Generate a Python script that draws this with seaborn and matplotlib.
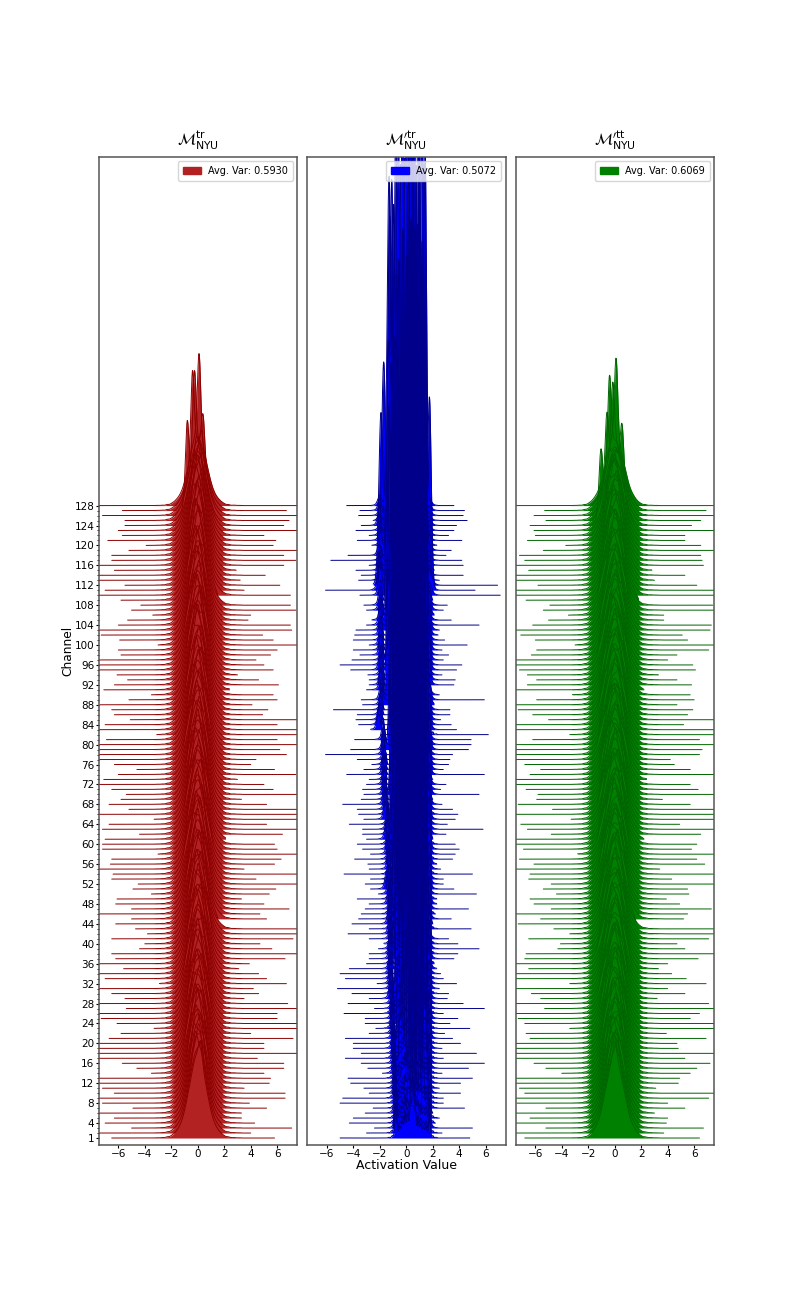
import matplotlib
matplotlib.use('Agg')
import matplotlib.pyplot as plt
import matplotlib.transforms as mtransforms
from matplotlib.patches import Patch
import seaborn as sns

# all per channel lists run from channel 128 down to channel 1
# min and max activation of each channel, 8 means it runs off the axes
red_left = [-8,-5.7,-7.2,-5.5,-5.5,-6.0,-5.7,-6.8,-3.9,-5.2,-6.5,-6.5,-7.4,-6.3,-8,-8,
            -5.5,-7.0,-8,-5.8,-4.3,-5.0,-3.4,-5.3,-6.0,-7.4,-7.3,-5.9,-3.0,-6.0,-5.8,-8,
            -8,-8,-6.1,-5.3,-6.3,-7.1,-3.5,-5.2,-7.4,-6.5,-6.3,-5.1,-7.0,-8,-3.1,-6.9,
            -8,-8,-8,-8,-6.3,-4.6,-6.0,-7.1,-7.4,-6.5,-5.4,-5.8,-6.7,-5.2,-8,-3.3,
            -6.7,-7.2,-4.4,-7.0,-7.2,-7.2,-3.0,-6.5,-6.6,-8,-6.4,-6.5,-4.5,-4.9,-3.5,-6.1,
            -6.2,-5.0,-8,-5.0,-6.2,-4.7,-3.8,-6.5,-4.0,-4.4,-6.5,-6.2,-7.4,-5.6,-8,-7.0,
            -2.9,-8,-6.5,-5.5,-8,-5.4,-8,-7.3,-6.1,-3.3,-5.8,-6.7,-8,-8,-8,-8,
            -5.7,-4.6,-3.5,-8,-8,-7.2,-6.3,-8,-7.2,-4.9,-8,-6.3,-7.0,-5.0,-8,-6.5]
red_right = [8,6.7,8,6.9,6.5,8,5.0,5.9,5.7,8,6.5,7.4,6.5,2.9,5.1,3.2,
             6.2,3.5,7.0,1.5,7.0,7.4,4.0,3.8,7.0,7.1,4.9,5.7,8,6.0,5.5,4.4,
             5.0,5.7,3.0,4.6,6.1,2.4,5.7,6.0,4.1,5.3,4.9,8,6.0,8,8,6.0,
             8,6.2,6.7,4.4,4.0,5.8,7.4,3.0,5.0,5.7,8,3.3,5.2,8,8,8,
             5.2,8,6.4,2.1,5.8,6.0,8,6.3,5.8,3.5,8,4.4,8,5.9,5.4,3.3,
             5.0,6.9,4.7,5.2,1.5,8,8,7.2,4.7,5.6,8,6.6,3.9,3.1,4.6,5.2,
             6.7,4.2,4.6,3.5,6.8,8,6.0,6.0,8,8,4.0,7.2,5.0,5.0,8,4.5,
             6.5,6.5,5.0,5.5,5.4,3.5,6.6,6.6,3.9,5.2,3.3,3.3,4.3,7.1,4.0,5.8]
blue_left = [-4.5,-3.5,-3.6,-2.5,-3.4,-3.8,-2.8,-3.7,-2.6,-2.0,-4.4,-5.7,-2.8,-3.8,-3.4,-3.6,
             -2.5,-6.1,-3.5,-2.0,-3.2,-3.0,-2.1,-2.6,-3.0,-3.8,-3.9,-4.0,-2.8,-4.0,-3.5,-4.1,
             -5.0,-4.2,-2.9,-2.8,-2.8,-3.0,-2.0,-3.4,-3.3,-5.5,-3.7,-3.8,-3.6,-2.7,-1.9,-3.9,
             -1.9,-4.2,-6.1,-3.7,-2.6,-3.2,-4.5,-2.8,-3.0,-3.3,-3.2,-3.4,-4.8,-3.7,-3.6,-3.2,
             -4.3,-3.3,-3.3,-3.0,-3.7,-3.3,-2.7,-3.9,-2.9,-2.8,-4.7,-2.7,-3.1,-2.7,-2.1,-3.7,
             -2.8,-3.1,-3.4,-3.6,-4.1,-2.8,-4.4,-2.8,-1.7,-2.1,-2.8,-2.8,-3.0,-4.3,-5.0,-4.6,
             -2.2,-5.2,-4.1,-2.8,-4.4,-2.4,-4.7,-3.1,-3.1,-2.3,-2.8,-4.6,-4.0,-4.0,-3.4,-4.6,
             -3.4,-2.9,-1.8,-4.4,-4.2,-3.2,-2.8,-4.8,-5.0,-2.5,-3.1,-4.0,-4.3,-2.4,-3.0,-5.0]
blue_right = [3.6,4.4,4.3,4.6,3.8,3.6,3.2,4.2,2.3,3.4,3.0,4.2,4.3,2.1,4.3,2.5,
              6.9,5.2,7.1,2.0,3.1,2.8,2.1,3.4,5.5,2.5,2.4,2.9,4.6,2.7,3.2,2.8,
              4.2,3.8,2.7,3.7,3.6,1.8,2.5,5.9,2.1,3.3,3.3,2.6,3.4,3.8,6.2,4.9,
              4.9,4.7,3.5,3.3,3.2,2.8,5.9,2.0,3.0,2.6,5.5,2.0,2.7,3.5,3.9,3.7,
              3.1,5.8,3.0,2.0,3.7,4.0,3.7,3.5,2.3,2.6,5.0,2.8,2.8,3.6,5.3,2.3,
              2.3,4.7,2.2,3.4,2.0,4.9,1.9,3.2,3.9,5.5,3.9,3.6,2.1,2.3,2.6,2.8,
              3.8,2.5,3.2,3.1,4.3,5.9,2.8,3.9,3.3,4.8,2.9,3.5,4.1,2.7,5.3,2.8,
              5.9,4.7,2.7,5.0,4.1,2.5,4.1,2.8,2.8,4.4,2.0,2.5,2.2,5.0,2.7,4.8]
green_left = [-8,-5.3,-6.1,-5.2,-6.4,-6.1,-6.0,-6.6,-3.7,-5.4,-7.2,-6.8,-8,-6.5,-8,-8,
              -5.8,-8,-8,-6.7,-4.9,-5.4,-3.5,-5.0,-6.2,-8,-7.1,-6.0,-3.0,-5.9,-6.3,-8,
              -8,-7.2,-6.6,-5.9,-6.6,-8,-3.2,-5.9,-8,-7.3,-6.2,-5.0,-8,-8,-3.4,-6.2,
              -8,-8,-8,-8,-6.8,-5.6,-6.4,-8,-8,-6.7,-5.8,-5.9,-7.3,-4.7,-8,-3.3,
              -7.1,-6.6,-4.8,-8,-8,-6.9,-2.8,-7.2,-6.1,-8,-6.4,-6.5,-4.8,-5.4,-4.4,-6.4,
              -6.1,-4.8,-8,-5.6,-7.3,-4.6,-3.4,-6.5,-4.1,-4.3,-6.7,-6.8,-8,-6.5,-8,-8,
              -3.4,-8,-6.3,-5.6,-8,-5.3,-8,-7.3,-6.8,-3.4,-6.7,-6.4,-8,-8,-8,-8,
              -6.1,-5.2,-4.0,-8,-8,-7.2,-6.8,-8,-7.4,-5.2,-8,-6.4,-8,-5.2,-8,-6.8]
green_right = [8,6.9,8,6.5,5.8,8,5.3,5.3,6.5,8,6.5,6.6,6.7,2.8,5.3,3.0,
               6.2,8,8,1.8,7.4,8,3.7,3.7,7.3,7.2,5.1,5.5,8,7.1,4.7,4.0,
               5.9,6.1,3.3,4.7,5.8,2.2,5.7,6.0,4.7,5.9,5.5,8,5.2,8,8,6.4,
               8,6.6,6.4,4.2,4.5,5.7,8,2.4,5.7,6.3,8,3.6,5.7,8,8,8,
               4.9,8,6.5,2.2,6.2,5.8,8,6.2,6.8,3.4,8,4.3,8,5.5,5.6,3.9,
               4.9,7.3,5.5,5.2,1.6,8,8,7.1,4.7,5.3,8,6.3,4.0,3.3,4.3,5.4,
               6.9,4.0,5.3,3.2,7.1,8,6.4,5.7,8,8,3.9,6.9,4.7,4.8,8,5.3,
               7.2,6.2,5.7,4.9,4.8,3.1,8,7.1,4.0,5.3,3.0,4.0,3.9,6.7,3.7,6.4]

# where the sharpest mode of each channel sits
red_peak = [0.1,-0.4,-0.25,0.4,-0.8,0.3,-0.1,0.15,-0.3,0.25,0.0,-0.2,0.3,-0.4,0.1,-0.05,
            0.2,-0.35,0.45,-0.15,0.05,-0.6,0.3,-0.25,0.5,0.0,-0.45,0.2,-0.1,0.4,-0.7,0.1,
            -0.3,0.6,-0.05,0.25,-0.55,0.15,0.45,-0.2,0.0,-0.4,0.35,-0.65,0.1,0.55,-0.15,0.3,
            -0.5,0.05,0.7,-0.25,0.2,-0.75,0.4,-0.1,0.6,-0.35,0.15,-0.6,0.5,0.0,-0.45,0.3,
            -0.2,0.65,-0.7,0.1,0.45,-0.3,0.25,-0.55,0.8,-0.05,0.35,-0.8,0.55,-0.15,0.2,-0.4,
            0.7,0.0,-0.65,0.4,-0.25,0.15,0.6,-0.5,0.3,-0.1,0.75,-0.35,0.05,0.5,-0.6,0.25,
            -0.2,0.65,-0.75,0.1,0.4,-0.45,0.55,0.0,-0.3,0.2,0.7,-0.55,0.35,-0.1,0.6,-0.4,
            0.15,-0.7,0.45,-0.25,0.3,0.0,-0.5,0.55,-0.15,0.25,-0.35,0.4,0.1,-0.2,0.3,0.2]
blue_peak = [-1.3,1.4,-0.8,0.9,-1.1,0.3,1.2,-0.3,0.6,-1.25,1.35,-0.6,0.0,1.0,-0.95,0.45,
             -1.9,1.75,-1.7,-0.45,0.75,-1.15,1.3,-0.15,0.2,-1.35,1.1,0.55,-0.75,-1.05,0.85,1.45,
             -0.55,-1.2,0.1,1.25,-0.9,0.65,-0.25,1.4,-1.3,0.35,0.95,-0.7,1.15,-1.0,0.5,-0.35,
             1.3,-1.1,0.05,0.8,-0.6,1.45,-0.85,0.25,1.05,-0.2,-1.0,0.7,1.35,-0.5,0.4,-0.8,
             0.9,-0.3,1.2,-1.05,0.15,1.5,-0.65,0.6,-0.95,1.0,0.3,-0.4,1.3,-0.75,0.8,0.0,
             -0.9,1.1,0.45,-0.55,1.4,0.2,-0.7,0.95,-0.1,1.2,0.55,-0.85,0.7,1.45,-0.3,0.35,
             1.05,-0.6,0.1,1.3,-0.45,0.85,0.5,-0.7,1.15,0.25,-0.2,1.4,0.6,-0.5,0.95,0.05,
             1.25,-0.35,0.75,0.4,1.0,-0.15,1.35,0.55,0.15,0.9,1.15,0.3,0.65,1.4,0.45,0.5]
green_peak = [0.1,-0.4,-0.15,-0.6,0.55,-1.05,0.3,0.6,-0.25,0.0,-0.5,0.45,0.15,-0.5,0.4,-0.1,
              0.25,-0.6,-0.3,0.5,0.05,-0.95,0.35,-0.2,0.7,-0.45,0.2,-0.85,0.4,-0.05,0.6,-0.6,
              0.1,-1.0,0.3,-0.35,0.8,-0.15,0.5,-0.75,0.0,0.65,-0.5,0.2,-0.9,0.45,-0.25,0.75,
              -0.65,0.1,0.35,-1.05,0.55,-0.4,0.25,-0.1,0.85,-0.8,0.15,-0.55,0.6,-0.3,0.4,-0.95,
              0.05,0.7,-0.7,0.3,-0.2,0.5,-1.0,0.2,-0.45,0.8,-0.05,0.35,-0.85,0.6,-0.6,0.1,
              0.45,-0.35,0.75,-0.9,0.25,-0.15,0.55,-0.75,0.0,0.65,-0.5,0.3,-1.05,0.4,-0.25,0.85,
              -0.65,0.15,0.5,-0.4,0.7,-0.95,0.2,-0.1,0.6,-0.8,0.35,-0.55,0.05,0.75,-0.3,0.45,
              -0.7,0.25,-0.15,0.55,-0.6,0.1,0.4,-0.45,0.3,-0.2,0.6,-0.35,0.15,-0.1,0.2,0.0]
# weight of that mode for the channels whose peak shows above the pile, rest use a default
red_top_w = [1.6,1.65,1.55,0.8,1.5,0.5]
blue_top_w = [4.0,4.0,3.5,4.0,3.5,4.0,3.5,4.0,3.5,4.0,4.0,3.5,4.0,3.5,3.5,3.5,0.75,0.7,1.7]
green_top_w = [1.65,1.65,1.3,1.25,1.0,1.35]

# left shoulder of the blue channels, creeps in towards channel 1
blue_edge = [-2.0,-2.0,-1.95,-2.0,-2.05,-2.0,-1.95,-2.0,-1.95,-2.0,-2.05,-1.95,-2.0,-2.0,-1.95,-2.0,
             -1.95,-2.0,-1.9,-1.95,-2.0,-1.95,-1.9,-1.95,-2.0,-1.9,-1.95,-1.9,-1.95,-1.9,-1.95,-1.85,
             -1.9,-1.95,-1.9,-1.85,-1.9,-1.95,-1.85,-1.9,-1.85,-1.9,-1.95,-2.0,-2.05,-2.1,-2.15,-1.75,
             -1.7,-1.7,-1.75,-1.7,-1.65,-1.7,-1.7,-1.65,-1.7,-1.65,-1.65,-1.6,-1.65,-1.6,-1.55,-1.6,
             -1.4,-1.45,-1.4,-1.5,-1.4,-1.35,-1.4,-1.35,-1.3,-1.35,-1.3,-1.25,-1.3,-1.5,-1.35,-1.25,
             -1.3,-1.2,-1.25,-1.2,-1.3,-1.2,-1.25,-1.2,-1.15,-1.2,-1.25,-1.2,-1.15,-1.2,-1.25,-1.2,
             -1.2,-1.15,-1.1,-1.2,-1.1,-1.05,-1.1,-1.05,-1.0,-1.1,-1.05,-1.0,-0.95,-1.0,-0.95,-1.0,
             -0.95,-0.9,-0.95,-0.9,-0.85,-0.9,-0.85,-0.9,-0.85,-0.8,-0.85,-0.8,-0.8,-0.8,-0.85,-0.8]

# shared shape of a channel, sample positions and their weights
red_core_x = [-3.1,-2.7,-2.3,-2.0,-1.8,-1.6,-1.4,-1.2,-1.0,-0.8,-0.6,-0.4,-0.2,0.0,0.2,0.4,0.6,0.8,1.0,1.2,1.4,1.6,1.8,2.0,2.3,2.7,3.1]
red_core_w = [.0045,.009,.022,.03,.05,.085,.13,.2,.31,.46,.63,.8,.94,1.0,.94,.8,.63,.46,.31,.2,.13,.085,.05,.03,.022,.009,.0045]
blue_core_x = [-0.7,-0.5,-0.3,-0.1,0.1,0.3,0.5,0.7,0.9,1.1,1.3,1.5,1.75,2.0,2.25]
blue_core_w = [.03,.05,.07,.09,.1,.11,.11,.08,.07,.06,.05,.05,.08,.01,.003]
green_core_x = [-3.1,-2.7,-2.3,-2.0,-1.8,-1.6,-1.4,-1.2,-1.0,-0.8,-0.6,-0.4,-0.2,0.0,0.2,0.4,0.6,0.8,1.0,1.2,1.4,1.6,1.8,2.0,2.3,2.7,3.1]
green_core_w = [.0045,.009,.022,.032,.055,.095,.15,.22,.34,.5,.66,.82,.94,1.0,.94,.82,.66,.5,.34,.22,.15,.09,.05,.03,.022,.009,.0045]

titles = [r'$\mathcal{M}^{\mathrm{tr}}_{\mathrm{NYU}}$',
          r"$\mathcal{M}^{\prime\mathrm{tr}}_{\mathrm{NYU}}$",
          r"$\mathcal{M}^{\prime\mathrm{tt}}_{\mathrm{NYU}}$"]
legend_labels = ['Avg. Var: 0.5930', 'Avg. Var: 0.5072', 'Avg. Var: 0.6069']
y_labelled = [1, 4, 8, 12, 16, 20, 24, 28, 32, 36, 40, 44, 48, 52, 56, 60, 64,
              68, 72, 76, 80, 84, 88, 92, 96, 100, 104, 108, 112, 116, 120, 124, 128]

panels = [
    (red_left, red_right, red_peak, red_core_x, red_core_w, red_top_w, None, 'firebrick', 'darkred', 0.17, 0.3),
    (blue_left, blue_right, blue_peak, blue_core_x, blue_core_w, blue_top_w, blue_edge, 'blue', 'darkblue', 0.11, 2.5),
    (green_left, green_right, green_peak, green_core_x, green_core_w, green_top_w, None, 'green', 'darkgreen', 0.17, 0.3),
]
axes_left = [98.5, 307, 515.5]
density_scale = 30

sns.set_style('ticks', rc={'text.color': 'black', 'axes.labelcolor': 'black',
                           'xtick.color': 'black', 'ytick.color': 'black'})
plt.rcParams['font.family'] = ['DejaVu Sans']
fig = plt.figure(figsize=(7.93, 13.08), dpi=100)

for p, (lefts, rights, peaks, core_x, core_w, top_w, edges, fill_c, line_c, bw, peak_w) in enumerate(panels):
    ax = fig.add_axes([axes_left[p] / 793, 163 / 1308, 198.5 / 793, 988 / 1308])
    for ch in range(1, 129):
        i = 128 - ch
        lo, hi = lefts[i], rights[i]
        xs = [lo, hi]
        ws = [0.0002, 0.0002]
        for cx, cw in zip(core_x, core_w):
            if lo < cx < hi:
                xs.append(cx)
                ws.append(cw)
        if lo < peaks[i] < hi:
            xs.append(peaks[i])
            ws.append(top_w[i] if i < len(top_w) else peak_w)
        if edges is not None:
            # sharp step on the left side with a bit of shoulder
            for off, w_e in [(0, 0.12), (-0.25, 0.01), (-0.5, 0.003)]:
                if edges[i] + off > lo:
                    xs.append(edges[i] + off)
                    ws.append(w_e)
        shift = mtransforms.Affine2D().scale(1, density_scale).translate(0, ch) + ax.transData
        # fills first, the outlines all lie above them
        sns.kdeplot(x=xs, weights=ws, bw_method=bw, cut=0, gridsize=800, fill=True,
                    color=fill_c, linewidth=0, alpha=1, zorder=1,
                    transform=shift, ax=ax)
        sns.kdeplot(x=xs, weights=ws, bw_method=bw, cut=0, gridsize=800,
                    color=line_c, linewidth=0.7, zorder=2, snap=False,
                    transform=shift, ax=ax)
    ax.set_xlim(-7.5, 7.5)
    ax.set_ylim(-0.4, 198)
    ax.set_xticks([-6, -4, -2, 0, 2, 4, 6])
    ax.tick_params(axis='x', labelsize=7.5, length=2, width=0.8, pad=1)
    ax.set_xlabel('')
    ax.set_ylabel('')
    if p == 0:
        ax.set_yticks(y_labelled)
        ax.set_yticks([c for c in range(1, 129) if c not in y_labelled], minor=True)
        ax.tick_params(axis='y', which='major', labelsize=7.5, length=2, width=0.8, pad=1)
        ax.tick_params(axis='y', which='minor', length=1.2, width=0.6)
        ax.set_ylabel('Channel', fontsize=8.8)
        ax.yaxis.set_label_coords(-0.123, 0.5)
    else:
        ax.set_yticks([])
    if p == 1:
        ax.set_xlabel('Activation Value', fontsize=9)
        ax.xaxis.set_label_coords(0.5, -0.0142)
    for side in ax.spines.values():
        side.set_linewidth(1.1)
        side.set_color('#555555')
    ax.set_title(titles[p], fontsize=11.2, pad=8)
    ax.legend(handles=[Patch(color=fill_c, label=legend_labels[p])], loc='upper right',
              fontsize=7, borderpad=0.5, borderaxespad=0.45, handlelength=1.9, handletextpad=0.7)

fig.savefig('out.png', dpi=100)
